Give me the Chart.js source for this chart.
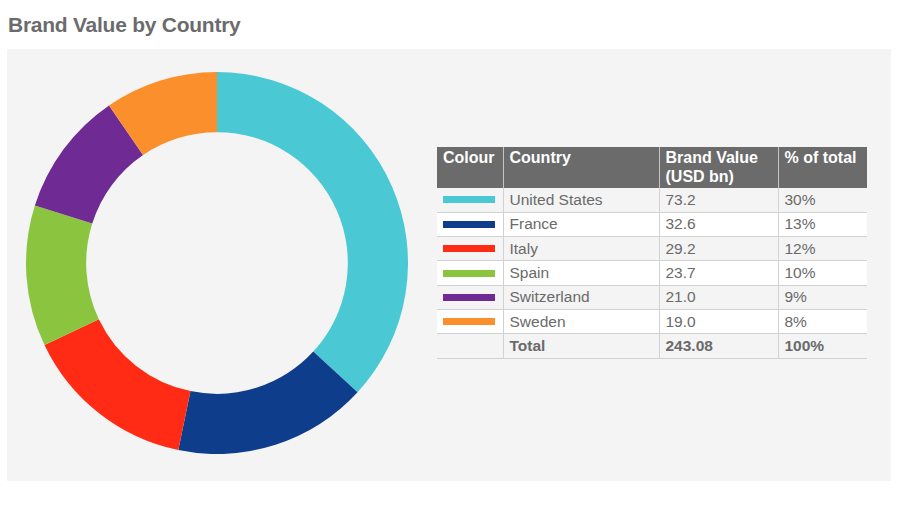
<!DOCTYPE html>
<html>
<head>
<meta charset="utf-8">
<script src="https://cdn.jsdelivr.net/npm/chart.js@4"></script>
<style>
  body { margin: 0; background: #fff; font-family: "Liberation Sans", Arial, sans-serif; }
  #title {
    position: absolute; left: 8px; top: 13px;
    font-size: 21px; line-height: 24px; font-weight: bold;
    letter-spacing: -0.25px; color: #6b6b6d;
  }
  #panel {
    position: absolute; left: 7px; top: 49px; width: 884px; height: 432px;
    background: #f4f4f4;
  }
  #donutBox { position: absolute; left: 26px; top: 72px; width: 382px; height: 382px; }
  #brandTable {
    position: absolute; left: 437px; top: 147px; width: 430px;
    border-collapse: collapse; table-layout: fixed;
    color: #6a6a6a; font-size: 15.5px;
  }
  #brandTable th {
    background: #6b6b6b; color: #fff; font-size: 16px; line-height: 19px;
    text-align: left; vertical-align: top; height: 41px; box-sizing: border-box;
    padding: 1px 4px 0 6px; border-left: 1px solid #c4c4c4;
  }
  #brandTable th:first-child { border-left: none; }
  #brandTable td {
    height: 24.3px; box-sizing: border-box; padding: 0 4px 0 6px;
    vertical-align: middle; border-bottom: 1px solid #d2d2d2;
    border-left: 1px solid #d2d2d2; line-height: 18px;
  }
  #brandTable td:first-child { border-left: none; }
  #brandTable tr.white td { background: #fff; }
  #brandTable tr.total td { font-weight: bold; }
  .swatch { display: block; width: 52px; height: 7px; }
</style>
</head>
<body>
<div id="title">Brand Value by Country</div>
<div id="panel"></div>
<div id="donutBox"><canvas id="brandDonut" width="382" height="382"></canvas></div>
<table id="brandTable">
  <colgroup><col style="width:66px"><col style="width:156px"><col style="width:119px"><col style="width:89px"></colgroup>
  <thead><tr><th>Colour</th><th>Country</th><th>Brand Value (USD bn)</th><th>% of total</th></tr></thead>
  <tbody id="tableBody"></tbody>
</table>
<script>
// BRAND VALUE DATA
const countries = ['United States', 'France', 'Italy', 'Spain', 'Switzerland', 'Sweden'];
const brandValues = [73.2, 32.6, 29.2, 23.7, 21.0, 19.0];
const shareLabels = ['30%', '13%', '12%', '10%', '9%', '8%'];
const totalLabel = '243.08';
const totalShare = '100%';
const colours = ['#4AC9D5', '#0E3D8C', '#FF2B14', '#8BC540', '#6F2A93', '#FB8F2B'];

// TABLE
const body = document.getElementById('tableBody');
countries.forEach((country, i) => {
  const tr = document.createElement('tr');
  if (i % 2 === 1) tr.className = 'white';
  tr.innerHTML =
    '<td><span class="swatch" style="background:' + colours[i] + '"></span></td>' +
    '<td>' + country + '</td>' +
    '<td>' + brandValues[i].toFixed(1) + '</td>' +
    '<td>' + shareLabels[i] + '</td>';
  body.appendChild(tr);
});
const totalRow = document.createElement('tr');
totalRow.className = 'total';
totalRow.innerHTML = '<td></td><td>Total</td><td>' + totalLabel + '</td><td>' + totalShare + '</td>';
body.appendChild(totalRow);

// DOUGHNUT
new Chart(document.getElementById('brandDonut'), {
  type: 'doughnut',
  data: {
    labels: countries,
    datasets: [{
      data: brandValues,
      backgroundColor: colours,
      borderWidth: 0
    }]
  },
  options: {
    responsive: false,
    animation: false,
    cutout: '68.5%',
    plugins: {
      legend: { display: false },
      tooltip: { enabled: false }
    }
  }
});
</script>
</body>
</html>
